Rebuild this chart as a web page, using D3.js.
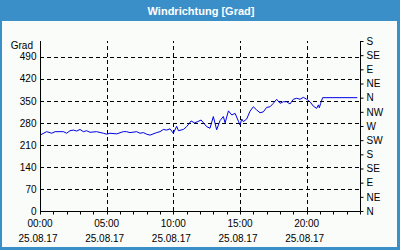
<!DOCTYPE html>
<html>
<head>
<meta charset="utf-8">
<script src="https://cdn.jsdelivr.net/npm/d3@7"></script>
<style>
html,body{margin:0;padding:0;background:#fff;}
svg{display:block;}
text{font-family:"Liberation Sans",Arial,sans-serif;}
</style>
</head>
<body>
<svg id="chart" width="400" height="250"></svg>
<script>
const title = "Windrichtung [Grad]";
const yUnit = "Grad";
const dateLabel = "25.08.17";
const times = ["00:00","00:30","00:53","01:08","01:45","02:00","02:15","02:30","02:45","03:00","03:15","03:30","03:45","04:15","04:45","05:00","05:15","05:45","06:15","06:30","06:45","07:15","07:30","07:45","08:00","08:15","08:45","09:00","09:15","09:30","09:45","10:00","10:15","10:23","10:45","11:00","11:20","11:35","11:50","12:05","12:30","12:45","13:00","13:15","13:30","13:45","13:53","14:08","14:23","14:38","14:53","15:00","15:08","15:15","15:30","15:45","16:00","16:15","16:30","16:45","17:00","17:15","17:30","17:45","18:00","18:15","18:30","18:45","19:00","19:15","19:30","19:45","20:00","20:15","20:30","20:45","20:53","20:57","21:03","21:12","23:48"];
const values = [241,252,247,252,252,247,255,257,254,259,252,255,250,252,247,244,247,245,252,252,249,252,247,249,244,241,249,252,259,257,261,247,269,255,259,268,286,280,284,289,268,263,300,258,287,300,280,318,305,310,285,273,292,284,292,317,331,321,312,315,329,331,342,355,342,347,347,340,355,358,355,361,355,347,333,326,337,328,342,360,360];
const yTicks = [0,70,140,210,280,350,420,490];
const dirTicks = [0,45,90,135,180,225,270,315,360,405,450,495,540];
const dirLabels = ["N","NE","E","SE","S","SW","W","NW","N","NE","E","SE","S"];
const xLabelHours = [0,5,10,15,20];
const xLabels = ["00:00","05:00","10:00","15:00","20:00"];

const toH = s => { const [h,m] = s.split(":").map(Number); return h + m/60; };
const data = times.map((t,i)=>({h:toH(t), v:values[i]}));

const svg = d3.select("#chart");
const blue = "#3b8fc8";
// frame
svg.append("rect").attr("x",0).attr("y",0).attr("width",400).attr("height",250).attr("fill",blue);
svg.append("rect").attr("x",2).attr("y",21).attr("width",395).attr("height",226).attr("fill","#fafcfa");
svg.append("text").attr("x",201).attr("y",14.5).attr("text-anchor","middle")
  .attr("fill","#fff").attr("font-weight","bold").attr("font-size","11px").text(title);

const x = d3.scaleLinear().domain([0,24]).range([40,360]);
const y = d3.scaleLinear().domain([0,540]).range([211,41]);

// grid
const g = svg.append("g");
g.selectAll("line.hg").data(yTicks.filter(d=>d>0)).join("line")
  .attr("x1",40).attr("x2",360).attr("y1",d=>Math.round(y(d))+0.5).attr("y2",d=>Math.round(y(d))+0.5)
  .attr("stroke","#000").attr("stroke-dasharray","4,3").attr("stroke-width",1);
g.selectAll("line.vg").data(xLabelHours.filter(d=>d>0)).join("line")
  .attr("y1",211).attr("y2",41).attr("x1",d=>Math.round(x(d))+0.5).attr("x2",d=>Math.round(x(d))+0.5)
  .attr("stroke","#000").attr("stroke-dasharray","4,3").attr("stroke-width",1);

// line
svg.append("path").datum(data)
  .attr("d", d3.line().x(d=>x(d.h)).y(d=>y(d.v)))
  .attr("fill","none").attr("stroke","#0000e6").attr("stroke-width",1);

// axes
const left = d3.axisLeft(y).tickValues(yTicks).tickSize(0).tickPadding(4);
const la = svg.append("g").attr("transform","translate(40.5,0)").call(left);
la.select(".domain").attr("stroke","#000").attr("d","M0,41V211.5");
la.selectAll("text").attr("font-size","10px").attr("fill","#000").attr("font-family","Liberation Sans, Arial, sans-serif");
svg.append("text").attr("x",33).attr("y",49).attr("text-anchor","end").attr("font-size","10px").attr("fill","#000").text(yUnit);

const right = d3.axisRight(y).tickValues(dirTicks).tickFormat((d,i)=>dirLabels[i]).tickSize(3).tickPadding(3);
const ra = svg.append("g").attr("transform","translate(360.5,0)").call(right);
ra.select(".domain").attr("stroke","#000").attr("d","M0,41V211.5");
ra.selectAll("text").attr("font-size","10px").attr("fill","#000").attr("font-family","Liberation Sans, Arial, sans-serif");

const bottom = d3.axisBottom(x).tickValues(d3.range(0,25)).tickSize(3).tickFormat("");
const ba = svg.append("g").attr("transform","translate(0,211.5)").call(bottom);
ba.select(".domain").attr("stroke","#000").attr("d","M40,0H360.5");
ba.selectAll(".tick line").attr("stroke","#000");
ba.selectAll(".tick").attr("transform",d=>`translate(${Math.round(x(d))+0.5},0)`);

const lab = svg.append("g");
lab.selectAll("text.t").data(xLabelHours).join("text")
  .attr("x",d=>x(d)).attr("y",227).attr("text-anchor","middle").attr("font-size","10px").attr("fill","#000")
  .text((d,i)=>xLabels[i]);
lab.selectAll("text.d").data(xLabelHours).join("text")
  .attr("x",d=>x(d)-2).attr("y",242).attr("text-anchor","middle").attr("font-size","10px").attr("fill","#000")
  .text(dateLabel);
</script>
</body>
</html>
